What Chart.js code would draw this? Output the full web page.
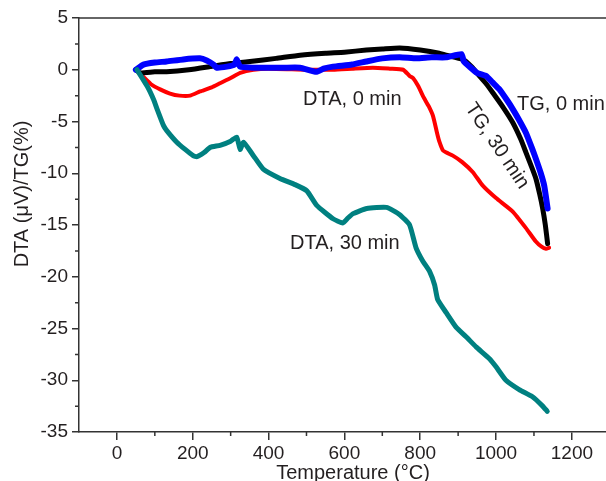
<!DOCTYPE html>
<html><head><meta charset="utf-8">
<script src="https://cdn.jsdelivr.net/npm/chart.js@4.4.0/dist/chart.umd.min.js"></script>
<style>html,body{margin:0;padding:0;background:#fff;overflow:hidden}</style>
</head><body>
<canvas id="c" width="606" height="481"></canvas>
<script>
// ---- data ----
const xTickValues = [0, 200, 400, 600, 800, 1000, 1200];
const yTickValues = [5, 0, -5, -10, -15, -20, -25, -30, -35];

const dta30X = [53, 80, 97, 106, 123, 132, 158, 180, 201, 211, 230, 246, 272, 300, 316, 325, 334, 360, 386, 430, 470, 501, 527, 570, 596, 610, 623, 659, 711, 746, 772, 789, 807, 825, 838, 846, 869, 895, 921, 948, 982, 1000, 1026, 1061, 1096, 1123, 1135];
const dta30Y = [0, -1.6, -2.9, -3.8, -5.4, -5.9, -7.0, -7.7, -8.3, -8.4, -8.0, -7.5, -7.3, -6.9, -6.5, -7.7, -7.0, -8.3, -9.6, -10.5, -11.1, -11.7, -13.1, -14.4, -14.8, -14.3, -13.9, -13.4, -13.3, -14.0, -15.0, -17.2, -18.5, -19.5, -20.8, -22.2, -23.5, -24.9, -25.8, -26.8, -27.9, -28.7, -30.0, -30.9, -31.6, -32.5, -33.0];

const dta0X = [50, 70, 90, 114, 140, 165, 193, 219, 250, 272, 300, 325, 360, 400, 500, 570, 620, 675, 720, 755, 772, 781, 795, 808, 822, 834, 845, 851, 860, 869, 886, 910, 939, 965, 1000, 1044, 1079, 1105, 1120, 1132, 1140];
const dta0Y = [0, -0.7, -1.4, -1.9, -2.3, -2.5, -2.5, -2.1, -1.7, -1.3, -0.8, -0.3, 0, 0.1, 0, 0, 0.1, 0.2, 0.1, 0, -0.6, -0.8, -1.6, -2.6, -3.5, -4.5, -6.2, -7.0, -7.8, -8.0, -8.3, -8.9, -9.9, -11.2, -12.4, -13.7, -15.3, -16.6, -17.1, -17.3, -17.2];

const tg30X = [50, 61, 100, 131, 190, 246, 300, 351, 420, 483, 550, 600, 658, 700, 746, 800, 850, 868, 912, 935, 956, 975, 991, 1020, 1044, 1065, 1079, 1095, 1105, 1115, 1123, 1130, 1136];
const tg30Y = [0, -0.3, -0.2, -0.2, 0, 0.3, 0.6, 0.8, 1.1, 1.4, 1.6, 1.7, 1.9, 2.0, 2.1, 1.9, 1.6, 1.4, 1.0, 0.3, -0.6, -1.4, -2.2, -3.7, -5.1, -6.7, -8.0, -9.5, -10.5, -12.0, -13.4, -15.0, -16.8];

const tg0X = [50, 70, 100, 131, 175, 219, 237, 255, 263, 290, 310, 316, 325, 360, 395, 440, 483, 526, 545, 570, 620, 658, 700, 746, 790, 830, 868, 909, 915, 930, 950, 974, 990, 1009, 1030, 1044, 1060, 1079, 1095, 1105, 1118, 1127, 1136];
const tg0Y = [0, 0.5, 0.7, 0.8, 1.0, 1.1, 0.9, 0.5, 0.2, 0.3, 0.5, 1.0, 0.3, 0.2, 0.2, 0.2, 0.2, -0.2, 0.1, 0.3, 0.5, 0.8, 1.1, 1.2, 1.1, 1.2, 1.2, 1.5, 0.8, 0.3, -0.3, -0.6, -1.2, -1.9, -3.0, -3.8, -4.8, -6.1, -7.6, -8.6, -10.0, -11.2, -13.4];

const labels = {
  dta0: 'DTA, 0 min', dta30: 'DTA, 30 min', tg0: 'TG, 0 min', tg30: 'TG, 30 min',
  xTitle: 'Temperature (°C)', yTitle: 'DTA (μV)/TG(%)'
};

const pts = (xs, ys) => xs.map((x, i) => ({x: x, y: ys[i]}));
const FONT = "'Liberation Sans', Arial, sans-serif";
const AXIS = '#333';
const TEXT = '#231f20';

const decor = {
  id: 'decor',
  afterDraw(chart) {
    const ctx = chart.ctx, a = chart.chartArea;
    const xs = chart.scales.x, ys = chart.scales.y;
    ctx.save();
    ctx.strokeStyle = AXIS; ctx.lineWidth = 1.5;
    ctx.beginPath(); ctx.moveTo(a.left, a.top); ctx.lineTo(a.right, a.top); ctx.stroke();
    ctx.beginPath();
    for (let v = 100; v < xs.max; v += 200) {
      const p = xs.getPixelForValue(v);
      ctx.moveTo(p, a.bottom); ctx.lineTo(p, a.bottom + 4);
    }
    for (let v = 2.5; v > ys.min; v -= 5) {
      const p = ys.getPixelForValue(v);
      ctx.moveTo(a.left, p); ctx.lineTo(a.left - 4, p);
    }
    ctx.stroke();
    ctx.fillStyle = TEXT;
    ctx.font = '20px ' + FONT;
    ctx.textBaseline = 'alphabetic';
    ctx.textAlign = 'left';
    ctx.fillText(labels.dta0, 303, 105);
    ctx.fillText(labels.tg0, 517, 110);
    ctx.fillText(labels.dta30, 290, 249);
    ctx.save();
    ctx.translate(497, 146); ctx.rotate(56 * Math.PI / 180);
    ctx.textAlign = 'center'; ctx.textBaseline = 'middle';
    ctx.fillText(labels.tg30, 0, 0);
    ctx.restore();
    ctx.textAlign = 'center';
    ctx.fillText(labels.xTitle, 353, 479);
    ctx.save();
    ctx.translate(28, 194); ctx.rotate(-Math.PI / 2);
    ctx.fillText(labels.yTitle, 0, 0);
    ctx.restore();
    ctx.restore();
  }
};

new Chart(document.getElementById('c'), {
  type: 'scatter',
  data: {
    datasets: [
      {label: labels.dta30, data: pts(dta30X, dta30Y), borderColor: '#008080', backgroundColor: '#008080', borderWidth: 5, showLine: true, pointRadius: 0, order: 1},
      {label: labels.tg0, data: pts(tg0X, tg0Y), borderColor: '#0000ff', backgroundColor: '#0000ff', borderWidth: 6, showLine: true, pointRadius: 0, order: 2},
      {label: labels.tg30, data: pts(tg30X, tg30Y), borderColor: '#000000', backgroundColor: '#000000', borderWidth: 5, showLine: true, pointRadius: 0, order: 3},
      {label: labels.dta0, data: pts(dta0X, dta0Y), borderColor: '#ff0000', backgroundColor: '#ff0000', borderWidth: 4, showLine: true, pointRadius: 0, order: 4}
    ]
  },
  options: {
    responsive: false, animation: false,
    layout: {padding: {top: 18, left: 0, right: 0, bottom: 0}},
    plugins: {legend: {display: false}, tooltip: {enabled: false}},
    elements: {line: {tension: 0.15, borderJoinStyle: 'round', borderCapStyle: 'round'}},
    scales: {
      x: {
        type: 'linear', min: -100, max: 1290,
        afterBuildTicks: s => { s.ticks = xTickValues.map(v => ({value: v})); },
        afterFit: s => { s.height = 49; },
        grid: {drawOnChartArea: false, drawTicks: true, tickLength: 8, color: AXIS, lineWidth: 1.5},
        border: {display: true, color: AXIS, width: 1.5},
        ticks: {font: {size: 19, family: FONT}, color: TEXT, padding: 2, maxRotation: 0, callback: v => String(v)}
      },
      y: {
        type: 'linear', min: -35, max: 5,
        afterBuildTicks: s => { s.ticks = yTickValues.map(v => ({value: v})); },
        afterFit: s => { s.width = 79; },
        grid: {drawOnChartArea: false, drawTicks: true, tickLength: 7, color: AXIS, lineWidth: 1.5},
        border: {display: true, color: AXIS, width: 1.5},
        ticks: {font: {size: 19, family: FONT}, color: TEXT, padding: 4, callback: v => String(v)}
      }
    }
  },
  plugins: [decor]
});
</script>
</body></html>
